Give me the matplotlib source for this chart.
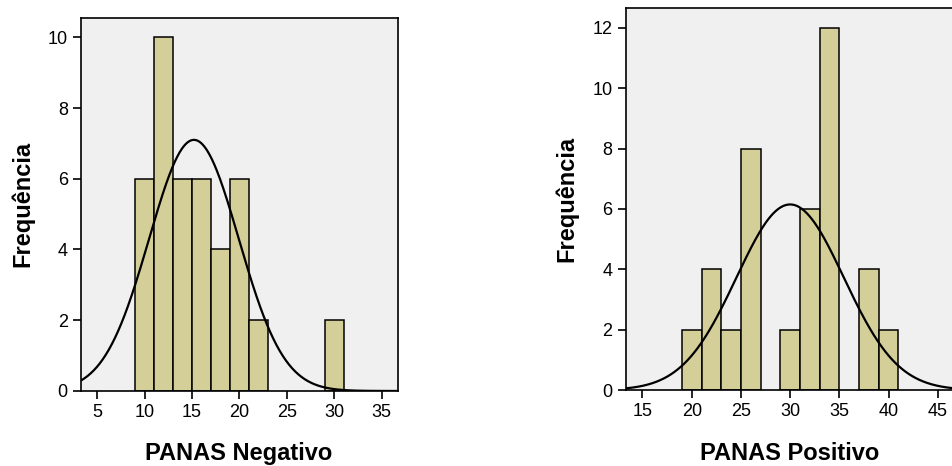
import numpy as np
import matplotlib.pyplot as plt

plt.rcParams['font.family'] = ['Liberation Sans', 'DejaVu Sans']

# PANAS Negativo histogram (bin edges of width 2)
neg_edges = [9, 11, 13, 15, 17, 19, 21, 23, 25, 27, 29, 31]
neg_counts = [6, 10, 6, 6, 4, 6, 2, 0, 0, 0, 2]
neg_mean, neg_sd, neg_n = 15.2, 4.72, 42

# PANAS Positivo histogram
pos_edges = [19, 21, 23, 25, 27, 29, 31, 33, 35, 37, 39, 41]
pos_counts = [2, 4, 2, 8, 0, 2, 6, 12, 0, 4, 2]
pos_mean, pos_sd, pos_n = 30.0, 5.45, 42

bar_color = '#d4cf98'
bg_color = '#f0f0f0'

fig = plt.figure(figsize=(9.53, 4.66), dpi=100)
ax1 = fig.add_axes([0.085, 0.161, 0.3326, 0.8])
ax2 = fig.add_axes([0.6566, 0.163, 0.3450, 0.820])


def draw_hist(ax, edges, counts, mean, sd, n, xlim, ylim, xticks, yticks):
    ax.set_facecolor(bg_color)
    edges = np.array(edges, dtype=float)
    for left, right, c in zip(edges[:-1], edges[1:], counts):
        if c > 0:
            ax.bar(left, c, width=right - left, align='edge', color=bar_color,
                   edgecolor='black', linewidth=1.1, zorder=2)
    width = edges[1] - edges[0]
    xs = np.linspace(xlim[0], xlim[1], 400)
    ys = n * width / (sd * np.sqrt(2 * np.pi)) * np.exp(-0.5 * ((xs - mean) / sd) ** 2)
    ax.plot(xs, ys, color='black', linewidth=1.6, zorder=3)
    ax.set_xlim(*xlim)
    ax.set_ylim(*ylim)
    ax.set_xticks(xticks)
    ax.set_yticks(yticks)
    ax.tick_params(direction='out', length=6, width=1.2, labelsize=13, colors='black')
    for s in ax.spines.values():
        s.set_linewidth(1.2)
        s.set_color('black')


draw_hist(ax1, neg_edges, neg_counts, neg_mean, neg_sd, neg_n,
          (3.3, 36.7), (0, 10.54), [5, 10, 15, 20, 25, 30, 35], [0, 2, 4, 6, 8, 10])
draw_hist(ax2, pos_edges, pos_counts, pos_mean, pos_sd, pos_n,
          (13.3, 46.7), (0, 12.66), [15, 20, 25, 30, 35, 40, 45], [0, 2, 4, 6, 8, 10, 12])

fig.text(0.25, 0.027, 'PANAS Negativo', ha='center', va='center',
         fontsize=17, fontweight='bold')
fig.text(0.024, 0.562, 'Frequência', ha='center', va='center', rotation=90,
         fontsize=17, fontweight='bold')
fig.text(0.829, 0.027, 'PANAS Positivo', ha='center', va='center',
         fontsize=17, fontweight='bold')
fig.text(0.595, 0.574, 'Frequência', ha='center', va='center', rotation=90,
         fontsize=17, fontweight='bold')

fig.savefig('out.png', dpi=100)
